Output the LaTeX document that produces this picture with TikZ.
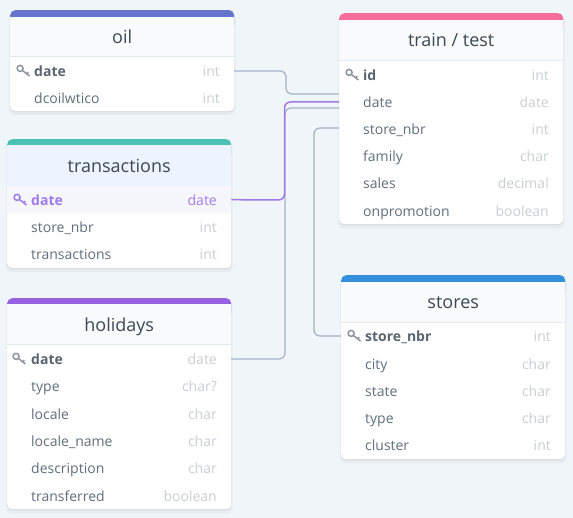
\documentclass[tikz,border=0pt]{standalone}
\usepackage{fontspec}
\setmainfont{Open Sans}
\usetikzlibrary{shadows}
\definecolor{pagebg}{HTML}{F0F5F9}
\definecolor{headbg}{HTML}{F8FAFC}
\definecolor{headactive}{HTML}{EBF4FF}
\definecolor{rowactive}{HTML}{F5F7FC}
\definecolor{headline}{HTML}{E2E8F0}
\definecolor{titleink}{HTML}{3D4852}
\definecolor{fieldink}{HTML}{606F7B}
\definecolor{keyink}{HTML}{596570}
\definecolor{typeink}{HTML}{CBCFD4}
\definecolor{keygrey}{HTML}{8F959E}
\definecolor{wiregrey}{HTML}{A5B1C6}
\definecolor{wirepurple}{HTML}{9F7AEA}
\definecolor{oilbar}{HTML}{6574CD}
\definecolor{transbar}{HTML}{4DC0B5}
\definecolor{holibar}{HTML}{9561E2}
\definecolor{trainbar}{HTML}{F66D9B}
\definecolor{storebar}{HTML}{3490DC}
\tikzset{
    tablebox/.style={anchor=north west, fill=white, rounded corners=5pt, minimum width=224pt, inner sep=0pt,
        drop shadow={shadow xshift=0pt, shadow yshift=-3pt, shadow scale=1.012, fill=black, opacity=0.035},
        drop shadow={shadow xshift=0pt, shadow yshift=-1.2pt, fill=black, opacity=0.07}},
    tablebar/.style={anchor=north west, rounded corners=5pt, minimum width=224pt, minimum height=20pt, inner sep=0pt},
    tablehead/.style={anchor=north west, fill=headbg, minimum width=224pt, inner sep=0pt, text height=13pt, text depth=0pt,
        font=\fontsize{18}{20}\selectfont, text=titleink},
    headrule/.style={draw=headline, line width=1pt},
    fieldname/.style={anchor=west, inner xsep=24pt, inner ysep=0pt, minimum height=27pt, text height=12.5pt, text depth=1.5pt,
        font=\fontsize{14}{16}\selectfont, text=fieldink},
    keyname/.style={fieldname, font=\fontsize{14}{16}\selectfont\bfseries, text=keyink},
    fieldtype/.style={anchor=east, inner xsep=14pt, inner ysep=0pt, minimum height=27pt, text height=12.5pt, text depth=1.5pt,
        font=\fontsize{14}{16}\selectfont, text=typeink},
    wire/.style={draw=wiregrey, line width=1.2pt, rounded corners=6pt},
    wireactive/.style={draw=wirepurple, line width=1.5pt, rounded corners=6pt},
    keyicon/.pic={
        \draw[line width=1.5pt] (-3.4,-2.6) circle (3);
        \draw[line width=1.5pt] (-1.2,-0.6) -- (6,5);
        \draw[line width=1.5pt] (3.2,2.8) -- (4.8,1.2);
    }
}
\begin{document}
\begin{tikzpicture}[x=1pt, y=-1pt]
    \useasboundingbox[fill=pagebg] (0,0) rectangle (573,518);

    \node[tablebox, minimum height=101pt] (oilBox) at (10,10) {};
    \node[tablebar, fill=oilbar] (oilBar) at (10,10) {};
    \node[tablehead, minimum height=39pt] (oilHead) at (10,17) {oil};
    \draw[headrule] (oilHead.south west) -- (oilHead.south east);
    \pic[color=keygrey] at (23.5,71) {keyicon};
    \node[keyname] (oilDate) at (10,71) {date};
    \node[fieldtype] (oilDateType) at (234,71) {int};
    \node[fieldname] (oilPrice) at (10,98) {dcoilwtico};
    \node[fieldtype] (oilPriceType) at (234,98) {int};

    \node[tablebox, minimum height=129pt] (transBox) at (7,139) {};
    \node[tablebar, fill=transbar] (transBar) at (7,139) {};
    \node[tablehead, fill=headactive, minimum height=41pt] (transHead) at (7,145) {transactions};
    \node[anchor=north west, fill=rowactive, minimum width=224pt, minimum height=27pt, inner sep=0pt] (transRow) at (7,186) {};
    \pic[color=wirepurple] at (20.5,200) {keyicon};
    \node[keyname, text=wirepurple] (transDate) at (7,200) {date};
    \node[fieldtype, text=wirepurple] (transDateType) at (231,200) {date};
    \node[fieldname] (transStore) at (7,227) {store\_nbr};
    \node[fieldtype] (transStoreType) at (231,227) {int};
    \node[fieldname] (transCount) at (7,254) {transactions};
    \node[fieldtype] (transCountType) at (231,254) {int};

    \node[tablebox, minimum height=211pt] (holiBox) at (7,298) {};
    \node[tablebar, fill=holibar] (holiBar) at (7,298) {};
    \node[tablehead, text height=15pt, minimum height=40pt] (holiHead) at (7,304) {holidays};
    \draw[headrule] (holiHead.south west) -- (holiHead.south east);
    \pic[color=keygrey] at (19.5,359) {keyicon};
    \node[keyname] (holiDate) at (7,359) {date};
    \node[fieldtype] (holiDateType) at (231,359) {date};
    \node[fieldname] (holiType) at (7,386) {type};
    \node[fieldtype] (holiTypeType) at (231,386) {char?};
    \node[fieldname] (holiLocale) at (7,414) {locale};
    \node[fieldtype] (holiLocaleType) at (231,414) {char};
    \node[fieldname] (holiName) at (7,441) {locale\_name};
    \node[fieldtype] (holiNameType) at (231,441) {char};
    \node[fieldname] (holiDesc) at (7,468) {description};
    \node[fieldtype] (holiDescType) at (231,468) {char};
    \node[fieldname] (holiMoved) at (7,496) {transferred};
    \node[fieldtype] (holiMovedType) at (231,496) {boolean};

    \node[tablebox, minimum height=211pt] (trainBox) at (339,13) {};
    \node[tablebar, fill=trainbar] (trainBar) at (339,13) {};
    \node[tablehead, minimum height=40pt] (trainHead) at (339,20) {train / test};
    \draw[headrule] (trainHead.south west) -- (trainHead.south east);
    \pic[color=keygrey] at (352.5,75) {keyicon};
    \node[keyname] (trainId) at (339,75) {id};
    \node[fieldtype] (trainIdType) at (563,75) {int};
    \node[fieldname] (trainDate) at (339,102) {date};
    \node[fieldtype] (trainDateType) at (563,102) {date};
    \node[fieldname] (trainStore) at (339,129) {store\_nbr};
    \node[fieldtype] (trainStoreType) at (563,129) {int};
    \node[fieldname] (trainFamily) at (339,156) {family};
    \node[fieldtype] (trainFamilyType) at (563,156) {char};
    \node[fieldname] (trainSales) at (339,183) {sales};
    \node[fieldtype] (trainSalesType) at (563,183) {decimal};
    \node[fieldname] (trainPromo) at (339,211) {onpromotion};
    \node[fieldtype] (trainPromoType) at (563,211) {boolean};

    \node[tablebox, minimum height=184pt] (storeBox) at (341,275) {};
    \node[tablebar, fill=storebar] (storeBar) at (341,275) {};
    \node[tablehead, minimum height=40pt] (storeHead) at (341,282) {stores};
    \draw[headrule] (storeHead.south west) -- (storeHead.south east);
    \pic[color=keygrey] at (354.5,336) {keyicon};
    \node[keyname] (storeNbr) at (341,336) {store\_nbr};
    \node[fieldtype] (storeNbrType) at (565,336) {int};
    \node[fieldname] (storeCity) at (341,364) {city};
    \node[fieldtype] (storeCityType) at (565,364) {char};
    \node[fieldname] (storeState) at (341,391) {state};
    \node[fieldtype] (storeStateType) at (565,391) {char};
    \node[fieldname] (storeType) at (341,418) {type};
    \node[fieldtype] (storeTypeType) at (565,418) {char};
    \node[fieldname] (storeCluster) at (341,445) {cluster};
    \node[fieldtype] (storeClusterType) at (565,445) {int};

    \draw[wire] (oilDateType.east) -| (286,94) -- ([yshift=8pt]trainDate.west);
    \draw[wire] (holiDateType.east) -- (285,359) |- ([yshift=-6pt]trainDate.west);
    \draw[wire] (storeNbr.west) -- (314,336) |- ([yshift=1pt]trainStore.west);
    \draw[wireactive] (transRow.east) -- (284.5,200) |- (trainDate.west);
\end{tikzpicture}
\end{document}
